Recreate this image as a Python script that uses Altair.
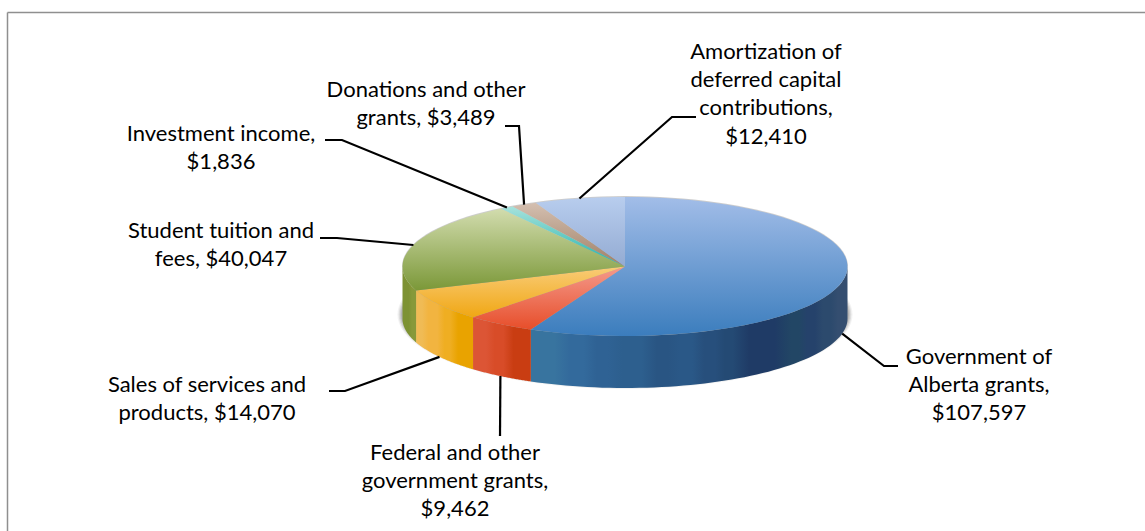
import math
import altair as alt

# Revenue by source, clockwise from twelve o'clock
sources = [
    "Government of Alberta grants",
    "Federal and other government grants",
    "Sales of services and products",
    "Student tuition and fees",
    "Investment income",
    "Donations and other grants",
    "Amortization of deferred capital contributions",
]
amounts = [107597, 9462, 14070, 40047, 1836, 3489, 12410]

# Label text, one list of lines for each source
label_lines = [
    ["Government of", "Alberta grants,", "$107,597"],
    ["Federal and other", "government grants,", "$9,462"],
    ["Sales of services and", "products, $14,070"],
    ["Student tuition and", "fees, $40,047"],
    ["Investment income,", "$1,836"],
    ["Donations and other", "grants, $3,489"],
    ["Amortization of", "deferred capital", "contributions,", "$12,410"],
]

# Label placement: centre x and first line y, then the leader's elbow points
label_pos = [(979, 357), (455, 453), (207, 385), (221, 231), (221, 134), (426, 90), (766, 52)]
elbows = [
    [(884, 366), (898, 366)],
    [(500, 436)],
    [(345, 391), (329, 391)],
    [(337, 238), (320, 238)],
    [(342, 140), (325, 140)],
    [(519, 126), (505, 126)],
    [(672, 117), (696, 117)],
]

# Colour ramps of the slice tops (vertical)
top_ramps = [
    ["#a2bde8", "#3b7dbd"],
    ["#f49a8c", "#e74e2a"],
    ["#f9cc78", "#f0a714"],
    ["#d2dcae", "#7b9838"],
    ["#a6e2dc", "#22b3ac"],
    ["#d4bfb0", "#9f8066"],
    ["#b8cdee", "#93abd2"],
]

# Front wall shading: bands of colour, each with the fraction of the slice where it ends
wall_bands = [
    [(0.10, "#38749f"), (0.19, "#336a9c"), (0.26, "#2f6294"), (0.38, "#2d5f8e"), (0.45, "#295583"),
     (0.53, "#2a5887"), (0.60, "#274f7c"), (0.65, "#244a74"), (0.81, "#1f3b66"), (0.86, "#224665"),
     (0.91, "#25426b"), (0.96, "#2c4a6d"), (1.0, "#344e70")],
    [(0.3, "#dc5535"), (0.6, "#d84c28"), (1.0, "#c93d12")],
    [(0.14, "#f0bb55"), (0.45, "#f2b440"), (0.65, "#efae22"), (1.0, "#e9a300")],
    [(0.6, "#7d9233"), (1.0, "#87993a")],
]

CX, CY, RX, RY, DEPTH = 625, 266.5, 222.5, 69.5, 52
TOTAL = sum(amounts)


def rim(deg, drop=0):
    a = math.radians(deg)
    return [CX + RX * math.sin(a), CY - RY * math.cos(a) + drop]


def arc(a0, a1, drop=0, n=60):
    return [rim(a0 + (a1 - a0) * i / n, drop) for i in range(n + 1)]


def feature(ring):
    return {"type": "Feature", "properties": {},
            "geometry": {"type": "Polygon", "coordinates": [ring + [ring[0]]]}}


def ellipse(cx, cy, rx, ry):
    return [[cx + rx * math.cos(i * math.pi / 60), cy + ry * math.sin(i * math.pi / 60)]
            for i in range(120)]


def shape(ring, **mark):
    return alt.Chart(alt.Data(values=[feature(ring)])).mark_geoshape(
        strokeWidth=0, **mark
    ).project(type="identity", scale=1, translate=[0, 0])


def band_stops(bands):
    # Each band holds its colour over the middle of its width and blends into the next
    stops = []
    start = 0.0
    for end, colour in bands:
        inset = (end - start) * 0.25
        stops.append(alt.GradientStop(offset=start + inset, color=colour))
        stops.append(alt.GradientStop(offset=end - inset, color=colour))
        start = end
    return stops


# Slice boundaries in degrees, clockwise from the top
edges = [0]
for v in amounts:
    edges.append(edges[-1] + v / TOTAL * 360)

layers = []

# Frame around the chart area
layers.append(
    alt.Chart(alt.Data(values=[{}])).mark_rule(color="#8f8f8f", strokeWidth=1.5).encode(
        x=alt.value(7.5), y=alt.value(12.5), y2=alt.value(531)
    )
)
layers.append(
    alt.Chart(alt.Data(values=[{}])).mark_rule(color="#8f8f8f", strokeWidth=1.5).encode(
        x=alt.value(7.5), x2=alt.value(1145), y=alt.value(12.5)
    )
)

# Soft shadow under the disc
for grow, op in [(5, 0.08), (3.8, 0.12), (2.6, 0.16), (1.4, 0.2)]:
    layers.append(
        shape(ellipse(CX, CY + DEPTH - 4, RX + grow, RY + grow), fill="#555555", opacity=op)
    )
layers.append(shape(ellipse(CX, CY - 0.4, RX + 0.4, RY + 0.5), fill="#999999", opacity=0.5))

# Front wall: only the part of each slice between 90 and 270 degrees shows
for i, bands in enumerate(wall_bands):
    a0 = max(edges[i], 90)
    a1 = min(edges[i + 1], 270)
    ring = arc(a0, a1) + arc(a1, a0, DEPTH)
    grad = alt.Gradient(gradient="linear", x1=0, y1=0, x2=1, y2=0, stops=band_stops(bands))
    layers.append(shape(ring, fill=grad))

# Slice tops
for i, ramp in enumerate(top_ramps):
    ring = [[CX, CY]] + arc(edges[i], edges[i + 1])
    grad = alt.Gradient(
        gradient="linear", x1=0, y1=0, x2=0, y2=1,
        stops=[alt.GradientStop(offset=0, color=ramp[0]),
               alt.GradientStop(offset=1, color=ramp[1])],
    )
    layers.append(shape(ring, fill=grad))

# Leader lines run from the rim at each slice's middle angle to the label
leader_rows = []
for i, pts in enumerate(elbows):
    mid = (edges[i] + edges[i + 1]) / 2
    drop = DEPTH if 90 < mid < 270 else 0
    x, y = rim(mid, drop)
    leader_rows.append({"src": sources[i], "o": 0, "x": x, "y": y})
    for j, (ex, ey) in enumerate(pts):
        leader_rows.append({"src": sources[i], "o": j + 1, "x": ex, "y": ey})

layers.append(
    alt.Chart(alt.Data(values=leader_rows)).mark_line(color="#000000", strokeWidth=2.2).encode(
        x=alt.X("x:Q", scale=None),
        y=alt.Y("y:Q", scale=None),
        detail="src:N",
        order="o:Q",
    )
)

# Labels, one row per line of text
text_rows = []
for lines, (lx, ly) in zip(label_lines, label_pos):
    for k, line in enumerate(lines):
        text_rows.append({"t": line, "x": lx, "y": ly + k * 28.2})

layers.append(
    alt.Chart(alt.Data(values=text_rows)).mark_text(
        font="Lato", fontSize=22, color="#000000", align="center", baseline="middle"
    ).encode(
        x=alt.X("x:Q", scale=None),
        y=alt.Y("y:Q", scale=None),
        text="t:N",
    )
)

chart = alt.layer(*layers).properties(
    width=1145, height=531, padding=0, autosize=alt.AutoSizeParams(type="none"), background="#ffffff"
).configure_view(stroke=None)

chart.save("out.html", embed_options={"renderer": "svg", "actions": False})
